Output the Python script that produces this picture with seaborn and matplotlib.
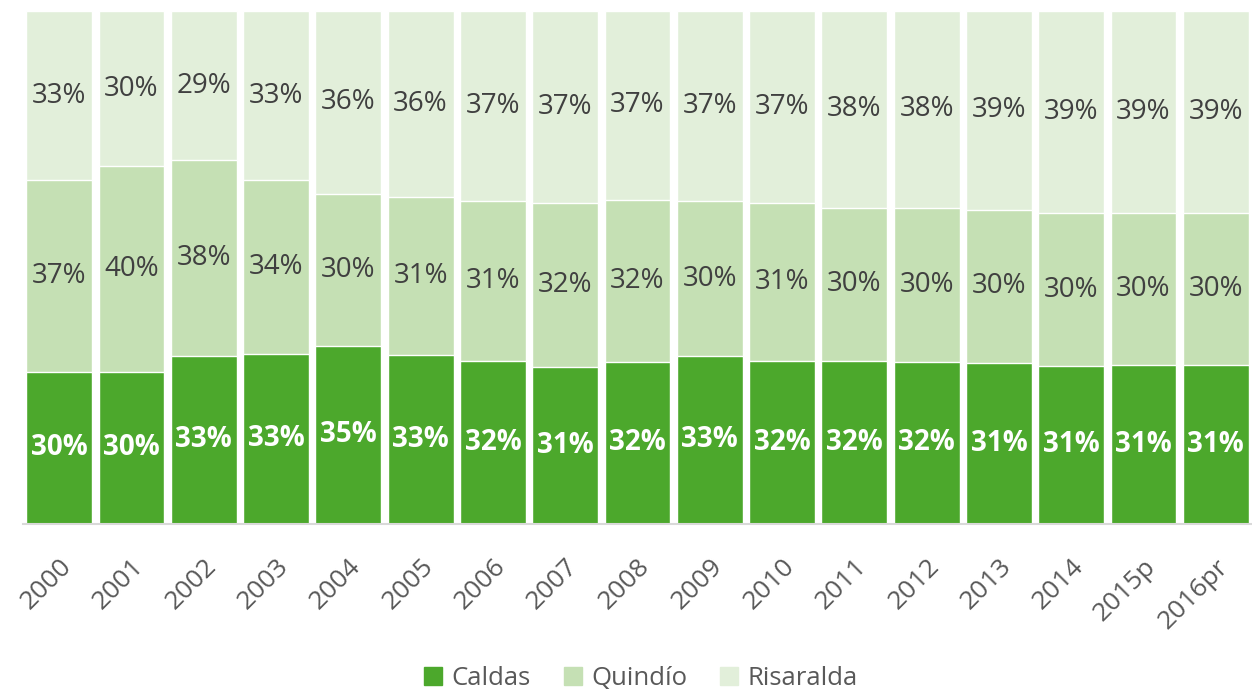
import matplotlib
matplotlib.use("Agg")
import matplotlib.pyplot as plt
import matplotlib.patches as mpatches
import numpy as np
import pandas as pd
import seaborn as sns

years = ['2000', '2001', '2002', '2003', '2004', '2005', '2006', '2007', '2008',
         '2009', '2010', '2011', '2012', '2013', '2014', '2015p', '2016pr']
caldas = [29.6, 29.6, 32.6, 33.0, 34.6, 32.8, 31.8, 30.6, 31.6,
          32.6, 31.8, 31.7, 31.6, 31.4, 30.7, 30.9, 31.0]
quindio = [37.4, 40.1, 38.3, 34.0, 29.7, 31.0, 31.2, 32.0, 31.6,
           30.4, 30.8, 29.9, 30.0, 29.8, 29.9, 29.7, 29.6]
risaralda = [33.0, 30.3, 29.1, 33.0, 35.7, 36.2, 37.0, 37.4, 36.8,
             37.0, 37.4, 38.4, 38.4, 38.8, 39.4, 39.4, 39.4]

c_caldas = '#4CA82C'
c_quindio = '#C5E0B4'
c_risaralda = '#E2EFDA'

df = pd.DataFrame({'year': years, 'Caldas': caldas, 'Quindío': quindio, 'Risaralda': risaralda})
df['cq'] = df['Caldas'] + df['Quindío']
df['total'] = df['cq'] + df['Risaralda']

sns.set_style('white')
plt.rcParams['font.family'] = ['Open Sans', 'DejaVu Sans']

fig = plt.figure(figsize=(12.52, 6.95), dpi=100)
ax = fig.add_axes([23 / 1252, 1 - 523.5 / 695, 1 - 23 / 1252, 512.5 / 695])

# stacked bars: draw cumulative totals back to front
sns.barplot(data=df, x='year', y='total', color=c_risaralda, width=0.91, saturation=1, ax=ax)
sns.barplot(data=df, x='year', y='cq', color=c_quindio, width=0.91, saturation=1, ax=ax)
sns.barplot(data=df, x='year', y='Caldas', color=c_caldas, width=0.91, saturation=1, ax=ax)

for i in range(len(years)):
    c, q, r = caldas[i], quindio[i], risaralda[i]
    ax.text(i, c / 2, f"{round(c)}%", ha='center', va='center', fontsize=20,
            fontweight='bold', color='white')
    ax.text(i, c + q / 2, f"{round(q)}%", ha='center', va='center', fontsize=20,
            color='#404040')
    ax.text(i, c + q + r / 2, f"{round(r)}%", ha='center', va='center', fontsize=20,
            color='#404040')

ax.set_ylim(0, 100)
ax.set_xlim(-0.5, len(years) - 0.5)
ax.set_xlabel('')
ax.set_ylabel('')
ax.set_yticks([])
for s in ['top', 'right', 'left']:
    ax.spines[s].set_visible(False)
ax.spines['bottom'].set_color('#D9D9D9')
ax.spines['bottom'].set_linewidth(1.5)
ax.tick_params(axis='x', length=0, pad=22)
plt.setp(ax.get_xticklabels(), rotation=45, ha='right', rotation_mode='anchor',
         fontsize=19, color='#595959')

handles = [mpatches.Patch(color=c_caldas, label='Caldas'),
           mpatches.Patch(color=c_quindio, label='Quindío'),
           mpatches.Patch(color=c_risaralda, label='Risaralda')]
leg = fig.legend(handles=handles, loc='lower center', bbox_to_anchor=(0.512, -0.028),
                 ncol=3, frameon=False, fontsize=18.5, handlelength=0.7, handleheight=0.7,
                 handletextpad=0.35, columnspacing=1.3)
for t in leg.get_texts():
    t.set_color('#595959')

fig.savefig('out.png', dpi=100)
